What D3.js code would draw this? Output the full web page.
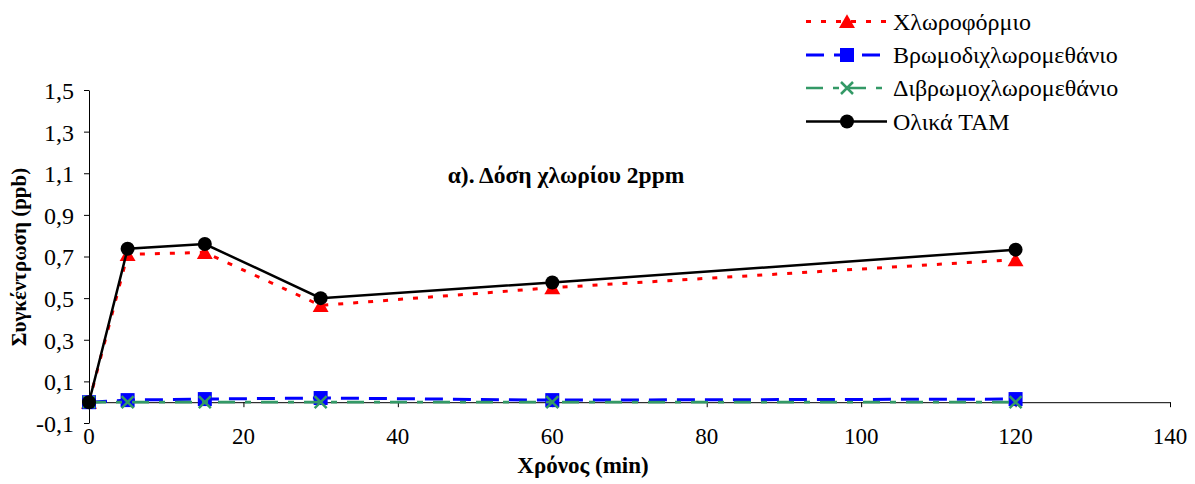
<!DOCTYPE html>
<html><head><meta charset="utf-8">
<script src="https://cdn.jsdelivr.net/npm/d3@7"></script>
<style>body{margin:0;background:#fff}svg{display:block}</style>
</head><body><svg id="c" width="1195" height="484"></svg>
<script>
const times = [0, 5, 15, 30, 60, 120];
const chloroform = [0.0, 0.71, 0.72, 0.465, 0.55, 0.685];
const bromodichloro = [0.0, 0.01, 0.015, 0.02, 0.01, 0.015];
const dibromochloro = [0.0, 0.0, 0.0, 0.0, 0.0, 0.0];
const totalTHM = [0.0, 0.737, 0.76, 0.50, 0.575, 0.733];
const seriesNames = ["Χλωροφόρμιο", "Βρωμοδιχλωρομεθάνιο", "Διβρωμοχλωρομεθάνιο", "Ολικά ΤΑΜ"];
const yTicks = [-0.1, 0.1, 0.3, 0.5, 0.7, 0.9, 1.1, 1.3, 1.5];
const xTicks = [0, 20, 40, 60, 80, 100, 120, 140];
const title = "α). Δόση χλωρίου 2ppm";
const xTitle = "Χρόνος (min)";
const yTitle = "Συγκέντρωση (ppb)";

const FONT = '"Liberation Serif", "Times New Roman", serif';
const svg = d3.select("#c");
const x = d3.scaleLinear().domain([0, 140]).range([89, 1170]);
const y = d3.scaleLinear().domain([-0.1, 1.5]).range([423, 90]);
const fmt = d => d3.format(".1f")(d).replace(".", ",").replace("−", "-");

// Y axis
const yAxis = svg.append("g").attr("transform", `translate(${x(0)},0)`)
  .call(d3.axisLeft(y).tickValues(yTicks).tickFormat(fmt).tickSize(5).tickSizeOuter(0).tickPadding(10));
yAxis.select(".domain").attr("stroke", "#000").attr("stroke-width", 1);
yAxis.selectAll("text").style("font-family", FONT).style("font-size", "24px").attr("fill", "#000").attr("dy", "0.35em");

// X axis line at y=0 with ticks
const xAxis = svg.append("g").attr("transform", `translate(0,${y(0)})`)
  .call(d3.axisBottom(x).tickValues(xTicks).tickFormat("").tickSize(5).tickSizeOuter(0));
xAxis.select(".domain").attr("stroke", "#000").attr("stroke-width", 1);
// X tick labels at the bottom
svg.append("g").selectAll("text").data(xTicks).join("text")
  .attr("x", d => x(d)).attr("y", 444).attr("text-anchor", "middle")
  .style("font-family", FONT).style("font-size", "23px").text(d => d);

const cols = ["#ff0000", "#0000ff", "#339966", "#000000"];
const dashes = ["5,10", "18,10", "17,10,6,10", null];
const widths = [3, 3, 2.7, 2.5];
const data = [chloroform, bromodichloro, dibromochloro, totalTHM];
const line = d3.line().x((d, i) => x(times[i])).y(d => y(d));

function marker(g, k, cx, cy) {
  if (k === 0) g.append("path").attr("d", d3.symbol(d3.symbolTriangle, 110)()).attr("transform", `translate(${cx},${cy})`).attr("fill", cols[0]);
  else if (k === 1) g.append("rect").attr("x", cx - 7).attr("y", cy - 7).attr("width", 14).attr("height", 14).attr("fill", cols[1]);
  else if (k === 2) g.append("path").attr("d", `M${cx-6},${cy-6}L${cx+6},${cy+6}M${cx-6},${cy+6}L${cx+6},${cy-6}`).attr("stroke", cols[2]).attr("stroke-width", 2.5);
  else g.append("circle").attr("cx", cx).attr("cy", cy).attr("r", 7).attr("fill", "#000");
}

[0, 1, 2, 3].forEach(k => {
  const g = svg.append("g");
  g.append("path").datum(data[k]).attr("d", line).attr("fill", "none")
    .attr("stroke", cols[k]).attr("stroke-width", widths[k]).attr("stroke-dasharray", dashes[k]);
  data[k].forEach((v, i) => marker(g, k, x(times[i]), y(v) + (k === 0 ? 2 : 0)));
});

// Titles
svg.append("text").attr("x", 566).attr("y", 183).attr("text-anchor", "middle")
  .style("font-family", FONT).style("font-size", "23.5px").attr("font-weight", "bold").text(title);
svg.append("text").attr("x", 583).attr("y", 473).attr("text-anchor", "middle")
  .style("font-family", FONT).style("font-size", "23px").attr("font-weight", "bold").text(xTitle);
svg.append("text").attr("transform", "translate(26,257) rotate(-90)").attr("text-anchor", "middle")
  .style("font-family", FONT).style("font-size", "21px").attr("font-weight", "bold").text(yTitle);

// Legend
const lg = svg.append("g");
const rowsY = [21.5, 55, 88, 121.5];
seriesNames.forEach((n, k) => {
  const ry = rowsY[k];
  lg.append("line").attr("x1", 806).attr("x2", 887).attr("y1", ry).attr("y2", ry)
    .attr("stroke", cols[k]).attr("stroke-width", widths[k]).attr("stroke-dasharray", dashes[k]);
  marker(lg, k, 847, ry + (k === 0 ? 2 : 0));
  lg.append("text").attr("x", 893).attr("y", ry + 8).style("font-family", FONT).style("font-size", "24px").text(n);
});
</script></body></html>
